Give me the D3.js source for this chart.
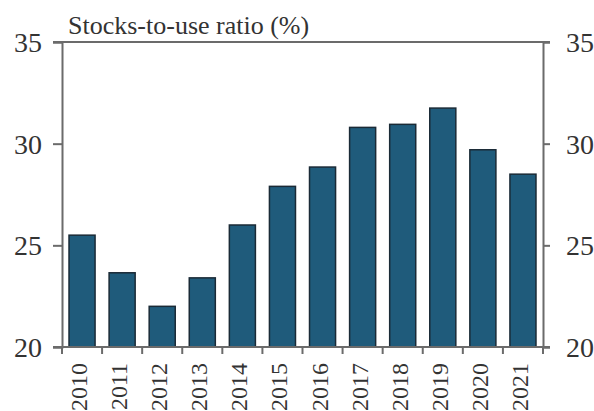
<!DOCTYPE html>
<html><head><meta charset="utf-8">
<script src="https://cdn.jsdelivr.net/npm/d3@7"></script>
<style>body{margin:0;background:#fff}svg{display:block;font-family:"Liberation Serif","Times New Roman",serif}</style>
</head><body>
<script>
const years = ["2010","2011","2012","2013","2014","2015","2016","2017","2018","2019","2020","2021"];
const ratios = [25.5, 23.65, 22.0, 23.4, 26.0, 27.9, 28.85, 30.8, 30.95, 31.75, 29.7, 28.5];
const yTicks = [20, 25, 30, 35];
const title = "Stocks-to-use ratio (%)";

const W = 594, H = 411;
const m = {left: 62, right: 594 - 543, top: 42, bottom: 411 - 347};
const svg = d3.select("body").append("svg").attr("width", W).attr("height", H);
const font = "Liberation Serif";

const x = d3.scaleBand().domain(years).range([m.left, W - m.right]).paddingInner(0.35).paddingOuter(0.175);
const y = d3.scaleLinear().domain([20, 35]).range([H - m.bottom, m.top]);
const axisColor = "#6b6b6b";

// bars
svg.append("g").selectAll("rect").data(years).join("rect")
  .attr("x", d => x(d))
  .attr("width", x.bandwidth())
  .attr("y", (d, i) => y(ratios[i]))
  .attr("height", (d, i) => y(20) - y(ratios[i]))
  .attr("fill", "#1f5b7b")
  .attr("stroke", "#1a2a36")
  .attr("stroke-width", 1.5);

// left axis
const left = svg.append("g").attr("transform", `translate(${m.left},0)`)
  .call(d3.axisLeft(y).tickValues(yTicks).tickSize(9).tickPadding(11).tickFormat(d3.format("d")));
// right axis
const right = svg.append("g").attr("transform", `translate(${W - m.right},0)`)
  .call(d3.axisRight(y).tickValues(yTicks).tickSize(7).tickPadding(16).tickFormat(d3.format("d")));
[left, right].forEach(g => {
  g.attr("font-family", font);
  g.select(".domain").attr("stroke", axisColor).attr("stroke-width", 2);
  g.selectAll(".tick line").attr("stroke", axisColor).attr("stroke-width", 2);
  g.selectAll(".tick text").attr("fill", "#333").attr("font-family", font).attr("font-size", 28).attr("dy", "0.34em");
});

// top line joining the 35 ticks
svg.append("line").attr("x1", m.left - 9).attr("x2", W - m.right + 7)
  .attr("y1", y(35)).attr("y2", y(35)).attr("stroke", axisColor).attr("stroke-width", 2);
// bottom baseline
svg.append("line").attr("x1", m.left - 9).attr("x2", W - m.right + 7)
  .attr("y1", y(20)).attr("y2", y(20)).attr("stroke", axisColor).attr("stroke-width", 2);

// bottom category boundary ticks
const b = d3.scaleBand().domain(years).range([m.left, W - m.right]);
const edges = years.map(d => b(d)).concat([W - m.right]);
svg.append("g").selectAll("line").data(edges).join("line")
  .attr("x1", d => d).attr("x2", d => d)
  .attr("y1", y(20)).attr("y2", y(20) + 7)
  .attr("stroke", axisColor).attr("stroke-width", 2);

// x labels rotated
svg.append("g").selectAll("text").data(years).join("text")
  .attr("transform", d => `translate(${x(d) + x.bandwidth()/2 + 5},${y(20) + 16}) rotate(-90)`)
  .attr("text-anchor", "end")
  .attr("font-family", font).attr("font-size", 24).attr("fill", "#333")
  .text(d => d);

// title
svg.append("text").attr("x", 68).attr("y", 34)
  .attr("font-family", font).attr("font-size", 26).attr("fill", "#333")
  .text(title);
</script>
</body></html>
